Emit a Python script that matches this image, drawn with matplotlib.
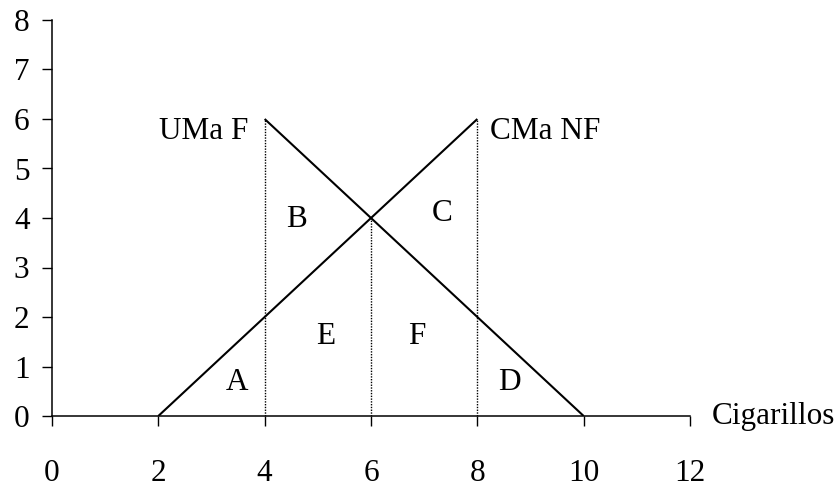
import numpy as np
import matplotlib
matplotlib.use("Agg")
import matplotlib.pyplot as plt

plt.rcParams['font.family'] = 'Liberation Serif'

# Curves
uma_x = [4, 10]
uma_y = [6, 0]
cma_x = [2, 8]
cma_y = [0, 6]

# Dotted guides
guide_x = [4, 6, 8]
guide_top = [6, 4, 6]

# Area labels
area_labels = ["A", "B", "C", "D", "E", "F"]
area_x = [3.48, 4.59, 7.33, 8.61, 5.15, 6.86]
area_y = [0.67, 3.96, 4.1, 0.67, 1.6, 1.6]

xticks = [0, 2, 4, 6, 8, 10, 12]
yticks = [0, 1, 2, 3, 4, 5, 6, 7, 8]

fs = 22.5

fig = plt.figure(figsize=(8.4, 4.86), dpi=100)
ax = fig.add_axes([52/840, 70/486, 638/840, 396/486])

ax.plot(uma_x, uma_y, color="black", lw=1.5, solid_capstyle="butt")
ax.plot(cma_x, cma_y, color="black", lw=1.5, solid_capstyle="butt")
for gx, gt in zip(guide_x, guide_top):
    ax.plot([gx, gx], [0, gt], color="black", lw=1.0, linestyle=(0, (1, 1)))

for lab, lx, ly in zip(area_labels, area_x, area_y):
    ax.text(lx, ly, lab, fontsize=fs, ha="center", va="center")

ax.text(3.69, 5.74, "UMa F", fontsize=fs, ha="right", va="center")
ax.text(8.24, 5.74, "CMa NF", fontsize=fs, ha="left", va="center")
ax.text(12.41, 0, "Cigarillos", fontsize=fs, ha="left", va="center")

ax.set_xlim(0, 12)
ax.set_ylim(0, 8)
ax.set_xticks(xticks)
ax.set_yticks(yticks)
ax.tick_params(axis="x", direction="out", length=7.2, width=1, pad=24, labelsize=fs)
ax.tick_params(axis="y", direction="out", length=7.2, width=1, pad=9, labelsize=fs)
ax.spines["top"].set_visible(False)
ax.spines["right"].set_visible(False)
for s in ["left", "bottom"]:
    ax.spines[s].set_linewidth(1.1)

fig.savefig("out.png", dpi=100)
